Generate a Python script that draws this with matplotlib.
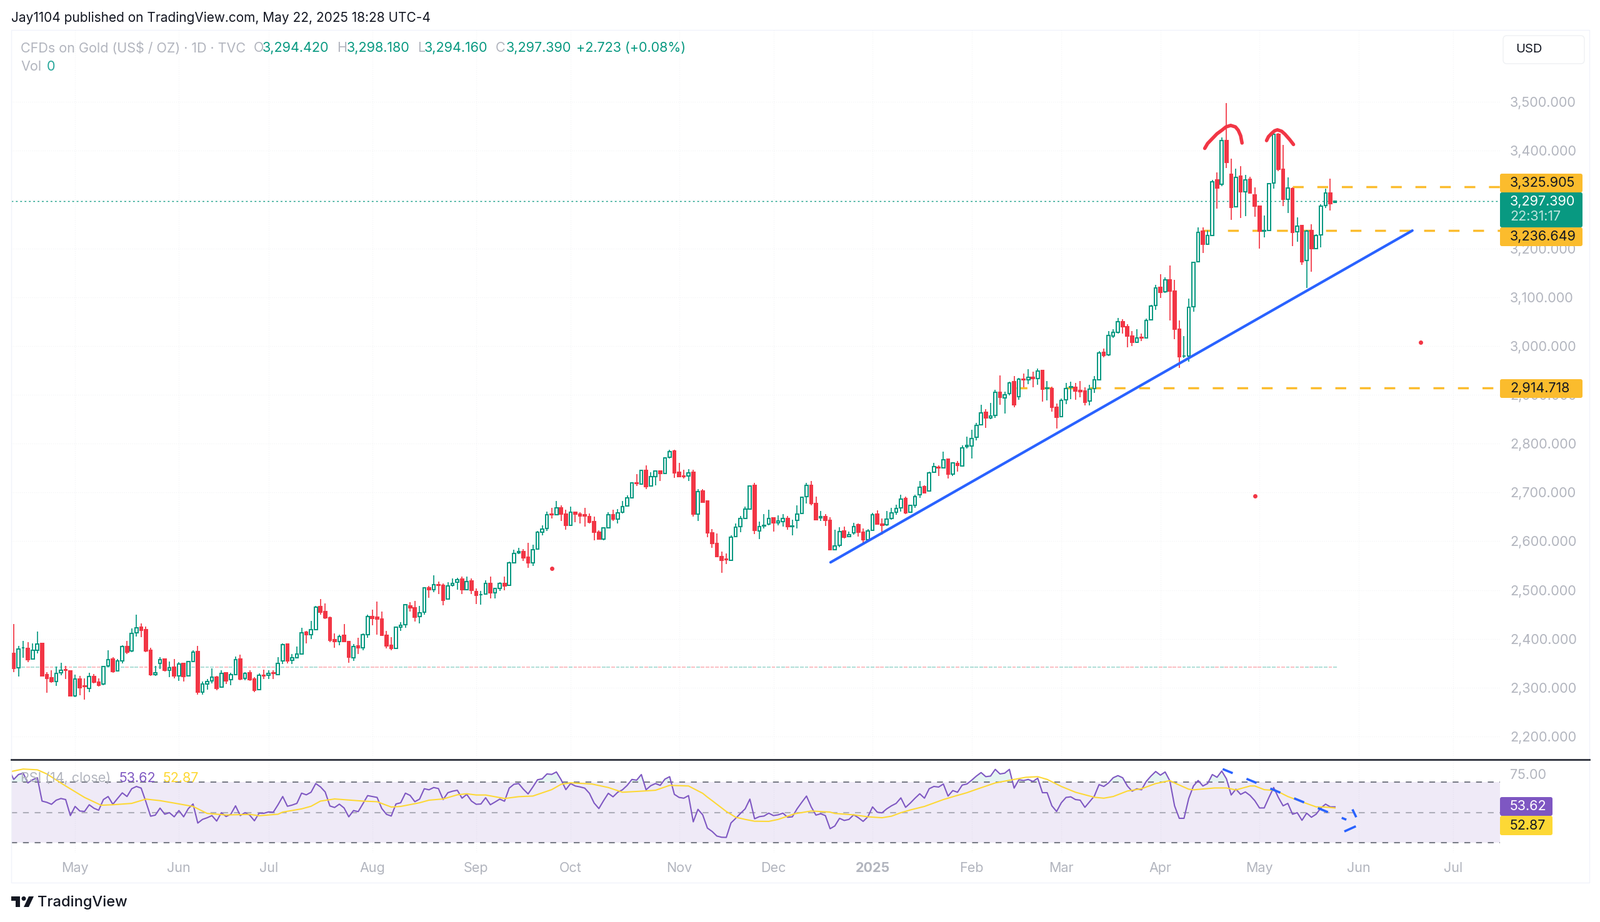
import numpy as np
import matplotlib
matplotlib.use("Agg")
import matplotlib.pyplot as plt
from matplotlib.patches import Rectangle, FancyBboxPatch, Polygon, Circle

plt.rcParams["font.family"] = "Inter"

W, H = 2560, 1476
GREEN = "#089981"
RED = "#F23645"
GRAY = "#B2B5BE"
BLUE = "#2962FF"
AMBER = "#FBBC2D"
PURPLE = "#7E57C2"
YELLOW = "#FDD835"

opens = [2370,2341,2381,2380,2359,2376,2390,2326,2320,2313,
         2330,2337,2334,2283,2317,2303,2299,2323,2311,2307,
         2344,2358,2334,2355,2384,2375,2412,2424,2419,2377,
         2327,2350,2358,2336,2342,2324,2349,2324,2354,2374,
         2291,2308,2314,2322,2301,2330,2316,2326,2358,2319,
         2331,2317,2296,2325,2325,2330,2326,2355,2389,2356,
         2361,2369,2413,2408,2419,2466,2456,2443,2398,2395,
         2407,2394,2361,2385,2382,2409,2446,2444,2440,2407,
         2387,2380,2424,2429,2468,2464,2445,2454,2504,2501,
         2511,2509,2482,2509,2516,2522,2501,2518,2497,2490,
         2492,2514,2494,2503,2514,2509,2556,2576,2579,2567,
         2556,2584,2619,2626,2656,2654,2669,2656,2632,2660,
         2656,2654,2650,2640,2618,2604,2628,2654,2645,2660,
         2672,2689,2719,2717,2745,2713,2733,2744,2739,2772,
         2785,2741,2734,2734,2741,2656,2703,2682,2617,2595,
         2569,2563,2561,2609,2630,2647,2666,2714,2621,2631,
         2635,2648,2637,2640,2646,2630,2643,2657,2692,2714,
         2677,2648,2650,2643,2582,2592,2621,2610,2617,2634,
         2618,2603,2622,2655,2635,2634,2646,2659,2669,2687,
         2660,2674,2695,2712,2703,2741,2752,2750,2768,2737,
         2759,2754,2794,2795,2813,2839,2864,2853,2858,2905,
         2894,2902,2927,2896,2932,2931,2936,2933,2950,2913,
         2913,2874,2855,2890,2916,2916,2909,2908,2887,2913,
         2931,2987,2982,3020,3028,3050,3040,3021,3008,3018,
         3016,3054,3083,3120,3111,3135,3112,3035,2979,2979,
         3080,3173,3235,3208,3227,3340,3331,3421,3352,3285,
         3348,3316,3342,3310,3286,3236,3237,3334,3434,3362,
         3301,3322,3234,3247,3175,3237,3199,3228,3288,3314,3294.42]
closes = [2340,2379,2382,2357,2376,2389,2324,2319,2312,2329,
          2335,2336,2283,2317,2300,2302,2323,2311,2305,2343,
          2357,2333,2355,2384,2373,2411,2422,2418,2375,2326,
          2331,2357,2335,2341,2324,2348,2323,2354,2373,2291,
          2308,2313,2321,2299,2329,2314,2326,2357,2318,2329,
          2316,2295,2325,2324,2329,2329,2350,2388,2355,2361,
          2369,2412,2408,2419,2465,2455,2443,2397,2394,2405,
          2395,2363,2384,2381,2408,2445,2442,2440,2407,2386,
          2380,2424,2428,2470,2464,2444,2453,2504,2501,2511,
          2510,2479,2508,2513,2521,2501,2517,2500,2489,2491,
          2513,2494,2503,2513,2508,2556,2575,2579,2566,2556,
          2583,2619,2625,2654,2654,2669,2656,2632,2660,2656,
          2652,2652,2639,2618,2604,2627,2654,2645,2658,2671,
          2689,2719,2718,2745,2712,2732,2744,2739,2771,2784,
          2740,2732,2733,2740,2656,2702,2680,2617,2595,2569,
          2561,2562,2608,2629,2647,2666,2713,2622,2630,2632,
          2647,2637,2641,2646,2630,2631,2656,2690,2714,2677,
          2644,2650,2643,2582,2590,2620,2608,2613,2630,2619,
          2603,2621,2654,2635,2633,2645,2658,2667,2686,2658,
          2674,2692,2710,2699,2740,2753,2750,2767,2737,2760,
          2756,2791,2796,2811,2837,2863,2853,2857,2905,2895,
          2900,2924,2879,2932,2931,2936,2933,2949,2912,2914,
          2874,2854,2889,2913,2917,2908,2906,2885,2912,2931,
          2986,2981,3022,3028,3050,3040,3020,3008,3016,3017,
          3053,3082,3119,3110,3135,3112,3035,2978,2980,3079,
          3172,3233,3208,3226,3336,3324,3421,3376,3284,3346,
          3316,3340,3313,3286,3235,3237,3333,3434,3362,3301,
          3324,3233,3246,3173,3236,3199,3227,3286,3313,3292,3297.39]
highs = [2430,2385,2396,2393,2391,2415,2390,2332,2335,2343,
         2351,2345,2334,2326,2324,2319,2330,2328,2319,2345,
         2376,2362,2358,2387,2396,2421,2449,2431,2425,2382,
         2345,2362,2360,2354,2358,2352,2351,2355,2376,2385,
         2312,2317,2339,2324,2335,2330,2331,2364,2367,2332,
         2335,2322,2329,2337,2336,2335,2363,2391,2389,2369,
         2384,2422,2416,2437,2468,2482,2473,2445,2411,2409,
         2430,2395,2389,2402,2411,2449,2460,2476,2456,2416,
         2404,2425,2434,2471,2475,2477,2468,2506,2508,2530,
         2517,2513,2516,2524,2525,2527,2527,2524,2503,2498,
         2520,2527,2505,2516,2527,2558,2583,2587,2584,2597,
         2593,2621,2632,2661,2668,2683,2673,2664,2671,2660,
         2659,2668,2657,2651,2622,2628,2659,2664,2666,2682,
         2694,2720,2738,2747,2756,2741,2745,2744,2772,2788,
         2788,2760,2746,2748,2747,2707,2707,2683,2625,2616,
         2579,2575,2612,2636,2652,2671,2713,2719,2640,2656,
         2664,2648,2653,2655,2652,2644,2674,2692,2719,2724,
         2691,2662,2656,2649,2624,2629,2630,2620,2637,2636,
         2626,2625,2658,2663,2647,2662,2668,2675,2695,2691,
         2675,2695,2723,2715,2743,2760,2756,2784,2769,2762,
         2764,2796,2814,2828,2843,2880,2871,2884,2910,2940,
         2907,2927,2938,2934,2944,2952,2948,2954,2951,2928,
         2917,2882,2893,2925,2927,2924,2928,2915,2920,2939,
         2990,2995,3030,3034,3057,3055,3045,3030,3034,3026,
         3056,3085,3125,3147,3141,3165,3135,3053,3021,3097,
         3173,3243,3243,3237,3340,3356,3427,3498,3384,3364,
         3368,3351,3347,3325,3287,3267,3333,3436,3436,3412,
         3345,3325,3263,3247,3238,3249,3229,3291,3322,3343,3298.18]
lows = [2332,2323,2361,2352,2358,2370,2323,2289,2310,2303,
        2325,2318,2283,2280,2284,2276,2291,2309,2302,2305,
        2342,2331,2334,2350,2369,2373,2405,2404,2373,2324,
        2324,2338,2333,2321,2319,2314,2313,2324,2352,2285,
        2286,2296,2309,2294,2300,2308,2305,2325,2315,2315,
        2314,2291,2295,2317,2317,2318,2325,2348,2349,2348,
        2360,2369,2390,2400,2418,2450,2441,2393,2382,2387,
        2395,2351,2355,2369,2376,2402,2428,2409,2407,2380,
        2377,2380,2416,2422,2456,2436,2431,2449,2484,2496,
        2492,2469,2481,2507,2501,2492,2500,2492,2471,2470,
        2491,2483,2483,2498,2499,2509,2555,2574,2559,2545,
        2549,2583,2612,2621,2647,2653,2641,2623,2631,2639,
        2636,2630,2636,2602,2604,2602,2627,2642,2636,2657,
        2672,2689,2713,2716,2707,2712,2715,2723,2738,2769,
        2730,2731,2728,2723,2651,2642,2679,2608,2587,2569,
        2535,2553,2561,2608,2618,2647,2666,2614,2604,2626,
        2633,2620,2633,2630,2623,2612,2626,2657,2677,2674,
        2644,2641,2631,2582,2581,2588,2606,2609,2613,2610,
        2594,2600,2621,2635,2613,2631,2644,2654,2661,2656,
        2659,2668,2689,2698,2702,2741,2734,2750,2729,2734,
        2742,2753,2790,2770,2806,2838,2832,2850,2853,2880,
        2862,2899,2875,2890,2916,2922,2915,2920,2886,2889,
        2866,2831,2854,2881,2891,2890,2895,2878,2878,2904,
        2931,2977,2979,3016,3025,3025,2997,3000,3007,3010,
        3015,3053,3074,3099,3109,3052,3014,2955,2975,2968,
        3070,3172,3191,3208,3226,3282,3327,3365,3258,3284,
        3262,3266,3313,3265,3200,3222,3237,3322,3358,3286,
        3273,3205,3214,3166,3119,3152,3199,3202,3283,3278,3294.16]

# first value belongs to the bar just left of the visible range
rsi = [78.0,
       71.6,74.8,75.7,69.3,71.4,72.7,57.4,56.6,55.3,58.0,
       59.1,58.4,47.9,53.9,50.9,50.6,55.0,52.7,51.4,58.4,
       60.4,55.3,59.1,62.8,60.4,65.5,67.0,65.9,57.0,47.5,
       48.2,52.8,48.8,49.8,47.1,51.2,47.1,52.5,55.5,43.0,
       45.4,46.5,47.9,44.3,49.8,47.3,48.8,54.3,47.9,49.8,
       48.2,44.5,49.5,49.4,50.3,50.1,55.0,60.4,54.0,54.8,
       55.9,62.6,61.5,63.2,68.9,66.7,63.4,54.2,53.2,
       55.4,52.9,47.1,51.2,50.5,55.7,61.0,60.4,59.8,52.5,
       48.7,47.6,55.5,56.3,62.6,61.1,57.0,58.7,65.5,64.8,
       66.3,65.6,58.4,62.9,63.9,64.5,59.3,61.8,57.4,55.3,
       55.5,59.6,55.0,56.8,58.7,57.3,65.9,68.4,68.9,65.2,
       62.1,66.6,71.4,72.0,75.2,74.9,76.5,71.4,64.9,68.9,
       67.3,66.7,65.9,62.5,56.1,52.5,57.7,62.5,60.2,63.2,
       64.8,67.7,71.6,71.1,74.8,64.8,67.5,68.9,
       67.7,71.8,73.4,61.8,59.8,59.3,61.0,43.8,52.0,48.4,
       39.7,37.5,34.5,33.7,33.6,43.1,46.1,49.3,52.3,58.7,
       45.8,47.2,47.6,49.5,47.9,48.4,49.5,46.8,47.1,52.3,
       56.6,60.7,53.6,48.2,49.1,47.9,39.3,41.1,46.1,44.7,
       45.4,48.4,46.5,44.1,47.1,53.6,50.1,49.7,52.3,54.3,
       55.9,59.5,53.3,56.1,59.3,62.2,59.3,65.5,67.0,66.6,
       68.6,60.7,64.3,63.2,67.9,68.6,71.1,73.8,
       76.1,73.4,73.8,78.2,75.2,75.7,78.2,65.9,71.4,70.9,
       71.6,70.3,72.4,62.9,62.9,54.3,50.6,56.3,59.8,60.2,
       58.4,58.0,53.3,57.0,60.7,68.2,67.0,69.3,72.7,74.1,
       72.7,67.3,63.9,65.5,64.8,70.3,73.8,76.8,74.4,76.5,
       70.7,54.3,46.1,46.1,59.1,67.3,70.9,67.3,68.9,74.8,
       73.0,77.1,72.0,61.4,65.2,61.8,63.4,61.1,57.7,52.9,
       52.9,59.8,66.3,59.8,54.3,55.9,48.8,49.8,44.8,49.5,
       46.8,48.8,52.9,55.4,53.6,53.62]
rsi_ma_bars = [-1,2,5,7,11,15,18.5,21,25,28,31,34,38,41,45,50,52,56,57,61,63,65,68,71,74,77,80,82,86,88,
               91,94,96,98,100,104,107,110,114,116,118,122.5,126,129,133,136,139,143,146,147,148,151,153,155,157,
               160,162,165.5,169,173,174,178,181,184,186,188,190,193,197,199.5,202,204,208,212,214.5,217,219,222,
               225,229,231,233,236,239,242,245,246,249,250,254.5,257,259,262,263,265,267.5,270,273,276,278,280]
rsi_ma = [76.5,78.4,77.9,75.2,67.3,59.8,54.7,55,55.9,58.7,57.7,56.1,53.9,49.3,48.3,48.7,47.8,48.8,50.2,52.3,54,57.4,58.8,58.1,57.4,57,53.5,53.9,56.3,58,
          58.8,61.5,62.2,61.4,61.4,59.1,60.3,60.7,64.9,68.4,69.4,68.6,66.3,63.2,63.9,64.5,67.7,67.3,62.5,60,57.7,50.6,46.8,45.4,44.2,
          44.1,45.4,49.1,50.9,50.2,49.3,48.4,47.1,46.5,47.5,49.8,51.6,53.9,58.4,60.7,62.9,65.1,69.3,71.6,73,73.4,71.6,67,
          63.2,59.9,59.3,60.4,64,65.5,68.9,70.8,69.3,65.2,64.8,66,66,64.7,67.3,67.3,64.9,64.3,60.4,56.9,53.6,53.5,52.87]

month_bars = [13,35,54,76,98,118,141,161,182,203,222,243,264,285,305]
month_labels = ["May","Jun","Jul","Aug","Sep","Oct","Nov","Dec","2025","Feb","Mar","Apr","May","Jun","Jul"]
price_ticks = [2200,2300,2400,2500,2600,2700,2800,2900,3000,3100,3200,3300,3400,3500]

trend_bars = [173.1, 296.4]
trend_prices = [2556.7, 3236.6]
levels = [3325.905, 3236.649, 2914.718]
level_start_bars = [271, 252, 212.5]
last_close = 3297.39
volume_level = 2342
dot_bars = [114, 263.1, 298.2]
dot_prices = [2544, 2692.4, 3007]
head_bars = [252.4,253,254,255,256,256.9,257.9,258.9,259.5,260,260.3]
head_prices = [3405,3415,3425,3435,3442,3449,3452,3449,3442,3431,3416]
head2_bars = [265.5,265.9,266.6,267.2,267.8,268.7,269.4,270.4,271.2]
head2_prices = [3421,3429,3436,3441,3443,3440,3434,3423,3413]

rsi_trend_bars = [256.2, 282.4]
rsi_trend_vals = [78.4, 45.2]
rsi_mark_a_bars = [283.8, 284.4]
rsi_mark_a_vals = [51.3, 47.5]
rsi_mark_b_bars = [284.2, 282.2]
rsi_mark_b_vals = [40.6, 37.8]

PX_LEFT, PX_RIGHT = 18, 2400
BAR_X0, BAR_STEP = 22, 7.55
x_lim = ((PX_LEFT - BAR_X0) / BAR_STEP, (PX_RIGHT - BAR_X0) / BAR_STEP)


def px_axes(left, top, right, bottom, **kw):
    return fig.add_axes([left / W, 1 - bottom / H, (right - left) / W, (bottom - top) / H], **kw)


fig = plt.figure(figsize=(W / 100, H / 100), dpi=100, facecolor="white")

ax = px_axes(PX_LEFT, 48, PX_RIGHT, 1216, zorder=1)
ax.set_xlim(*x_lim)
ax.set_ylim(2152.5, 3647.6)
for s in ax.spines.values():
    s.set_visible(False)
ax.yaxis.tick_right()
ax.set_yticks(price_ticks)
ax.set_yticklabels([f"{p:,.3f}" for p in price_ticks])
ax.tick_params(axis="y", length=0, pad=11.5, labelsize=15.5, labelcolor=GRAY)
ax.set_xticks(month_bars)
ax.tick_params(axis="x", length=0, labelbottom=False)
ax.grid(True, color="#F3F4F6", lw=0.8, ls=(0, (1, 2)))
ax.set_axisbelow(True)

bars = np.arange(len(closes))
o, h, l, c = map(np.array, (opens, highs, lows, closes))
up = c >= o
colors = np.where(up, GREEN, RED)
ax.vlines(bars, l, h, colors=colors, lw=1.25, zorder=3)
ax.bar(bars[up], (c - o)[up], bottom=o[up], width=0.62, facecolor="white", edgecolor=GREEN, lw=1.45, zorder=4)
ax.bar(bars[~up], (o - c)[~up], bottom=c[~up], width=0.62, facecolor=RED, edgecolor=RED, lw=1.45, zorder=4)

# volume pane sits flat at zero, one pale dash per bar
ax.hlines([volume_level] * len(bars), bars - 0.38, bars + 0.38, colors=colors, lw=1.2, alpha=0.38, zorder=2)

ax.axhline(last_close, color=GREEN, lw=1, ls=(0, (2, 3)), zorder=2)
for lev, start in zip(levels, level_start_bars):
    ax.plot([start, x_lim[1]], [lev, lev], color=AMBER, lw=2.5, ls=(0, (5, 6.3)), zorder=2)
ax.plot(trend_bars, trend_prices, color=BLUE, lw=3, solid_capstyle="round", zorder=5)
ax.plot(head_bars, head_prices, color=RED, lw=4, solid_capstyle="round", solid_joinstyle="round", zorder=5)
ax.plot(head2_bars, head2_prices, color=RED, lw=4, solid_capstyle="round", solid_joinstyle="round", zorder=5)
ax.plot(dot_bars, dot_prices, ls="none", marker="o", ms=5, color=RED, mec="none", zorder=5)

ax_rsi = px_axes(PX_LEFT, 1216, PX_RIGHT, 1365, zorder=2)
ax_rsi.set_xlim(*x_lim)
ax_rsi.set_ylim(23.6, 84.6)
for s in ax_rsi.spines.values():
    s.set_visible(False)
ax_rsi.yaxis.tick_right()
ax_rsi.set_yticks([75])
ax_rsi.set_yticklabels(["75.00"])
ax_rsi.tick_params(axis="y", length=0, pad=11.5, labelsize=15.5, labelcolor=GRAY)
ax_rsi.set_xticks(month_bars)
ax_rsi.set_xticklabels(month_labels)
ax_rsi.tick_params(axis="x", length=0, pad=11, labelsize=15.5, labelcolor=GRAY)
ax_rsi.get_xticklabels()[8].set_fontweight("bold")
ax_rsi.grid(True, axis="x", color="#F3F4F6", lw=0.8, ls=(0, (1, 2)))
ax_rsi.set_axisbelow(True)

ax_rsi.axhspan(30, 70, color=PURPLE, alpha=0.12, lw=0, zorder=1)
ax_rsi.axhline(70, color="#787B86", lw=1.5, ls=(0, (4.5, 4.5)), zorder=2)
ax_rsi.axhline(50, color="#787B86", lw=1.5, ls=(0, (4.5, 4.5)), alpha=0.55, zorder=2)
ax_rsi.axhline(30, color="#787B86", lw=1.5, ls=(0, (4.5, 4.5)), zorder=2)

rsi_bars = np.arange(-1, len(closes))
rsi_arr = np.array(rsi)
ax_rsi.fill_between(rsi_bars, 70, rsi_arr, where=rsi_arr > 70, interpolate=True, color=GREEN, alpha=0.1, lw=0, zorder=2)
ax_rsi.plot(rsi_bars, rsi, color=PURPLE, lw=1.5, zorder=3)
ax_rsi.plot(rsi_ma_bars, rsi_ma, color=YELLOW, lw=1.5, zorder=4)
ax_rsi.plot(rsi_trend_bars, rsi_trend_vals, color=BLUE, lw=2.6, ls=(0, (4.8, 6.6)), zorder=5)
ax_rsi.plot(rsi_mark_a_bars, rsi_mark_a_vals, color=BLUE, lw=2.6, zorder=5)
ax_rsi.plot(rsi_mark_b_bars, rsi_mark_b_vals, color=BLUE, lw=2.6, zorder=5)

# page furniture, drawn on top in pixel space
ov = fig.add_axes([0, 0, 1, 1], zorder=3)
ov.set_xlim(0, W)
ov.set_ylim(H, 0)
ov.axis("off")
ov.patch.set_alpha(0)

ov.add_patch(Rectangle((18, 48), 2525, 1365, fill=False, ec="#F0F3FA", lw=1))
ov.plot([18, 2543], [1216, 1216], color="#2A2E39", lw=2)


def tag(y0, y1, color, x1=2532):
    ov.add_patch(FancyBboxPatch((2400, y0), x1 - 2400, y1 - y0, boxstyle="round,pad=0,rounding_size=3",
                                fc=color, ec="none", zorder=3))


def tag_text(y, s, color="#131722", x=2416, alpha=1):
    ov.text(x, y, s, color=color, fontsize=15.5, va="center", ha="left", alpha=alpha, zorder=4)


tag(278, 308, AMBER)
tag_text(293, f"{levels[0]:,.3f}")
tag(308, 364, GREEN)
tag_text(323, f"{last_close:,.3f}", "white")
tag_text(347, "22:31:17", "white", alpha=0.75)
tag(364, 394, AMBER)
tag_text(379, f"{levels[1]:,.3f}")
tag(607, 637, AMBER)
tag_text(622, f"{levels[2]:,.3f}")
tag(1276, 1306, PURPLE, 2484)
tag_text(1291, f"{rsi[-1]:.2f}", "white")
tag(1306, 1337, YELLOW, 2484)
tag_text(1322, f"{rsi_ma[-1]:.2f}")

ov.add_patch(FancyBboxPatch((2405, 57), 130, 45, boxstyle="round,pad=0,rounding_size=6",
                            fc="white", ec="#EEF0F3", lw=1))
ov.text(2425, 79, "USD", color="#131722", fontsize=14.5, va="center")

ov.text(18, 29, "Jay1104 published on TradingView.com, May 22, 2025 18:28 UTC-4", color="#131722",
        fontsize=15, va="center")
legend_row = [(33, "CFDs on Gold (US$ / OZ) · 1D · TVC", GRAY), (406, "O", GRAY), (420, f"{opens[-1]:,.3f}", GREEN),
              (539, "H", GRAY), (555, f"{highs[-1]:,.3f}", GREEN), (668, "L", GRAY), (679, f"{lows[-1]:,.3f}", GREEN),
              (793, "C", GRAY), (810, f"{closes[-1]:,.3f}", GREEN), (922, "+2.723 (+0.08%)", GREEN)]
for x, s, col in legend_row:
    ov.text(x, 77, s, color=col, fontsize=15.5, va="center")
ov.text(33, 107, "Vol", color=GRAY, fontsize=15.5, va="center")
ov.text(75, 107, "0", color="#26A69A", fontsize=15.5, va="center")
ov.text(33, 1246, "RSI (14, close)", color=GRAY, fontsize=15.5, va="center")
ov.text(191, 1246, f"{rsi[-1]:.2f}", color=PURPLE, fontsize=15.5, va="center")
ov.text(261, 1246, f"{rsi_ma[-1]:.2f}", color=YELLOW, fontsize=15.5, va="center")

# logo
ov.add_patch(Rectangle((18, 1435), 14, 6.5, fc="#131722", ec="none"))
ov.add_patch(Rectangle((25, 1435), 7, 17, fc="#131722", ec="none"))
ov.add_patch(Circle((38, 1438.5), 3.5, fc="#131722", ec="none"))
ov.add_patch(Polygon([(46, 1435), (54, 1435), (46, 1452), (38, 1452)], fc="#131722", ec="none"))
ov.text(60, 1445, "TradingView", color="#131722", fontsize=17, va="center", fontweight="medium")

fig.savefig("out.png", dpi=100)
